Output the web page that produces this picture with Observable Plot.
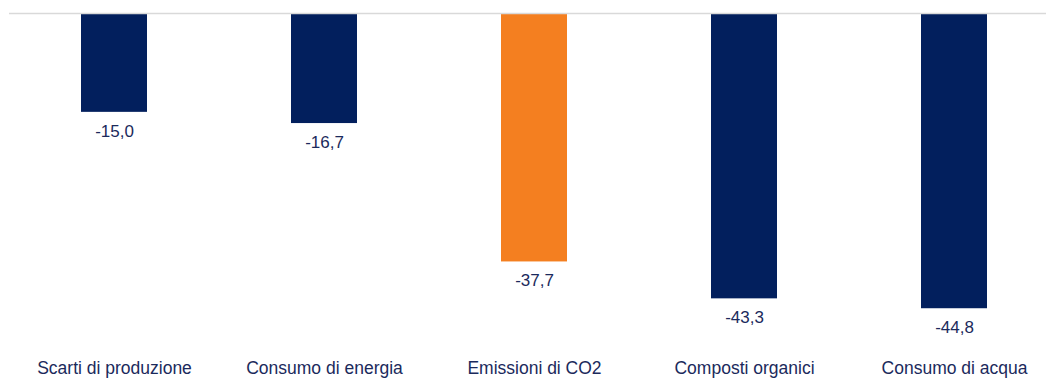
<!DOCTYPE html>
<html>
<head>
<meta charset="utf-8">
<script src="https://cdn.jsdelivr.net/npm/d3@7"></script>
<script src="https://cdn.jsdelivr.net/npm/@observablehq/plot@0.6"></script>
<style>
  html, body { margin: 0; padding: 0; background: #fff; }
  #chart { width: 1046px; height: 378px; }
</style>
</head>
<body>
<div id="chart"></div>
<script>
const categories = ["Scarti di produzione", "Consumo di energia", "Emissioni di CO2", "Composti organici", "Consumo di acqua"];
const values = [-15.0, -16.7, -37.7, -43.3, -44.8];
const highlight = [false, false, true, false, false];

const data = categories.map((c, i) => ({ cat: c, value: values[i], hl: highlight[i] }));
const fmt = v => v.toFixed(1).replace(".", ",");
const navy = "#021f5d";
const orange = "#f47f20";
const textColor = "#1b2a5c";

const chart = Plot.plot({
  width: 1046,
  height: 378,
  marginLeft: 9,
  marginRight: 0,
  marginTop: 0,
  marginBottom: 20,
  style: { fontFamily: "Liberation Sans, Arial, sans-serif", fontSize: "17px", color: textColor, background: "#fff" },
  x: { domain: categories, range: [9, 1059], paddingInner: 0.686, paddingOuter: 0.343, align: 0.5, label: null },
  y: { domain: [-50, 0], range: [342.5, 13] },
  marks: [
    Plot.barY(data, { x: "cat", y: "value", fill: d => d.hl ? orange : navy }),
    Plot.ruleY([0], { stroke: "#d9d9d9", strokeWidth: 1.5 }),
    Plot.text(data, { x: "cat", y: "value", text: d => fmt(d.value), dy: 19, fill: textColor, fontSize: 17 }),
    Plot.axisX({ anchor: "bottom", tickSize: 0, tickPadding: 3, fontSize: 17.5, fill: textColor, label: null }),
    Plot.axisY({ ticks: [], tickSize: 0, label: null })
  ]
});
document.getElementById("chart").appendChild(chart);
</script>
</body>
</html>
